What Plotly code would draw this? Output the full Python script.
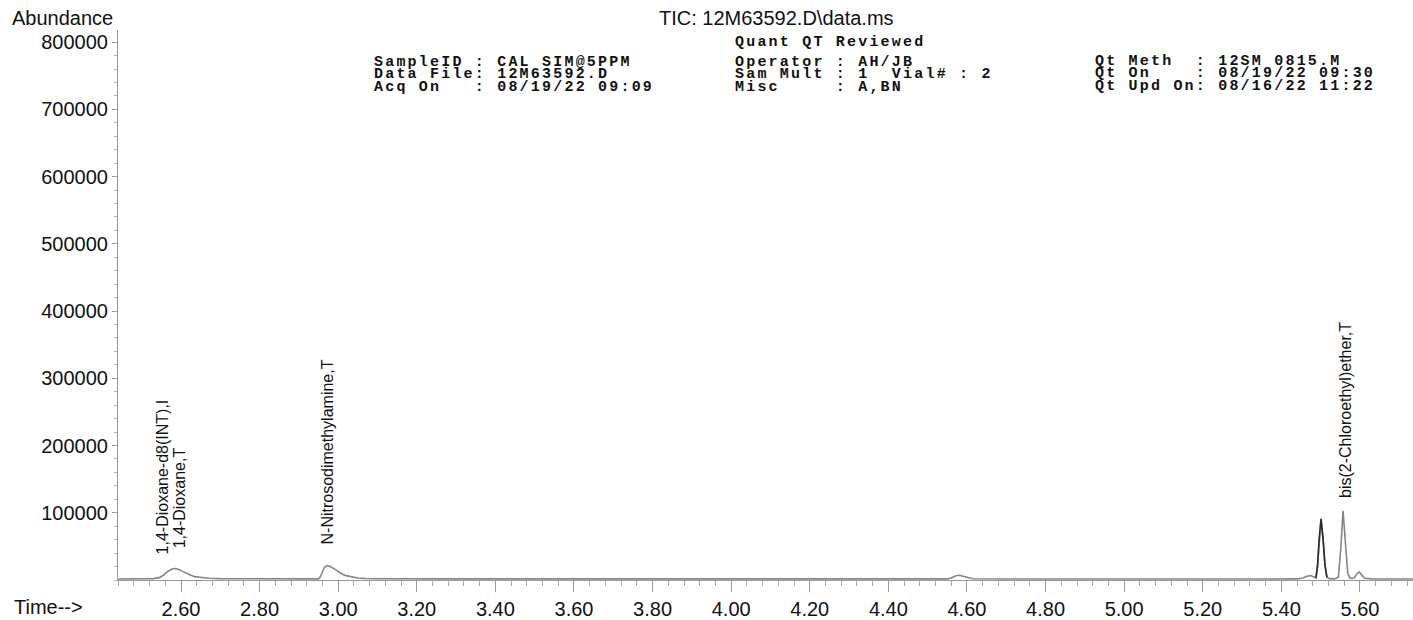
import plotly.graph_objects as go

# ---- data ----
time_min = [2.440, 2.500, 2.530, 2.545, 2.555, 2.565, 2.575, 2.585, 2.595, 2.605,
            2.615, 2.625, 2.635, 2.650, 2.670, 2.700, 2.800, 2.900, 2.950, 2.955,
            2.960, 2.965, 2.972, 2.980, 2.990, 3.000, 3.010, 3.020, 3.035, 3.050,
            3.070, 3.100, 3.300, 3.600, 4.000, 4.400, 4.550, 4.560, 4.570, 4.580,
            4.590, 4.600, 4.615, 4.700, 5.000, 5.300, 5.440, 5.455, 5.465, 5.475,
            5.483, 5.488, 5.492, 5.496, 5.501, 5.506, 5.511, 5.516, 5.522, 5.535,
            5.545, 5.551, 5.557, 5.563, 5.569, 5.575, 5.585, 5.592, 5.598, 5.604,
            5.612, 5.630, 5.735]
abundance = [1500, 1600, 2000, 3500, 7000, 12000, 16000, 17000, 15500, 12500,
             9500, 7000, 5000, 3500, 2500, 2000, 1700, 1600, 1700, 5000,
             13000, 19000, 21500, 20000, 16500, 12500, 9000, 6500, 4300, 3000,
             2300, 1900, 1700, 1600, 1500, 1500, 1600, 3000, 6000, 7000,
             5500, 3000, 1800, 1500, 1500, 1500, 1600, 3000, 5500, 6500,
             4000, 3000, 20000, 60000, 91000, 62000, 22000, 4000, 2000, 1600,
             4000, 45000, 103000, 55000, 10000, 2500, 3000, 9000, 12000, 8000,
             2500, 1600, 1500]

peak_labels = ["1,4-Dioxane-d8(INT),I", "1,4-Dioxane,T", "N-Nitrosodimethylamine,T",
               "bis(2-Chloroethyl)ether,T"]
peak_label_times = [2.554, 2.597, 2.974, 5.562]

x_tick_vals = [2.60, 2.80, 3.00, 3.20, 3.40, 3.60, 3.80, 4.00, 4.20, 4.40,
               4.60, 4.80, 5.00, 5.20, 5.40, 5.60]
y_tick_vals = [100000, 200000, 300000, 400000, 500000, 600000, 700000, 800000]

title_text = "TIC: 12M63592.D\\data.ms"
header_left = ["SampleID : CAL SIM@5PPM", "Data File: 12M63592.D", "Acq On   : 08/19/22 09:09"]
header_mid = ["Operator : AH/JB", "Sam Mult : 1  Vial# : 2", "Misc     : A,BN"]
header_right = ["Qt Meth  : 12SM 0815.M", "Qt On    : 08/19/22 09:30", "Qt Upd On: 08/16/22 11:22"]
header_top = "Quant QT Reviewed"

# ---- layout geometry (pixels) ----
W, H = 1413, 620
ML, MR, MT, MB = 118, 0, 30, 40
PW, PH = W - ML - MR, H - MT - MB
X_RANGE = [2.4397, 5.7350]
Y_RANGE = [0, 818000]


def px_x(p):
    return (p - ML) / PW


def px_y(p):
    return (H - MB - p) / PH


def val_at_px_y(p):
    return Y_RANGE[0] + (H - MB - p) / PH * (Y_RANGE[1] - Y_RANGE[0])


fig = go.Figure()

fig.add_trace(go.Scatter(x=time_min, y=abundance, mode="lines",
                         line=dict(color="#858585", width=1.6), hoverinfo="skip"))

# darker overlay for the 5.50 peak
hi_t = [t for t in time_min if 5.486 <= t <= 5.518]
hi_a = [a for t, a in zip(time_min, abundance) if 5.486 <= t <= 5.518]
fig.add_trace(go.Scatter(x=hi_t, y=hi_a, mode="lines",
                         line=dict(color="#2b2b2b", width=1.6), hoverinfo="skip"))

sans = "Liberation Sans, Arial, sans-serif"
mono = "Liberation Mono, Courier New, monospace"

annotations = []
# rotated peak labels (bottom pixel positions)
label_bottoms = [556, 550, 546, 500]
for txt, t, pb in zip(peak_labels, peak_label_times, label_bottoms):
    annotations.append(dict(x=t, y=val_at_px_y(pb), xref="x", yref="y", text=txt,
                            textangle=-90, showarrow=False, xanchor="center",
                            yanchor="bottom", font=dict(family=sans, size=16, color="#111")))

annotations.append(dict(x=px_x(776), y=px_y(18), xref="paper", yref="paper", text=title_text,
                        showarrow=False, xanchor="center", yanchor="middle",
                        font=dict(family=sans, size=20, color="#111")))
annotations.append(dict(x=px_x(10), y=px_y(18), xref="paper", yref="paper", text="Abundance",
                        showarrow=False, xanchor="left", yanchor="middle",
                        font=dict(family=sans, size=20, color="#111")))
annotations.append(dict(x=px_x(12), y=px_y(607), xref="paper", yref="paper", text="Time-->",
                        showarrow=False, xanchor="left", yanchor="middle",
                        font=dict(family=sans, size=20, color="#111")))

mono_font = dict(family=mono, size=15, color="#111")


def mono_text(s):
    return '<span style="letter-spacing:2.2px"><b>%s</b></span>' % s.replace(" ", "&nbsp;")


annotations.append(dict(x=px_x(733), y=px_y(42), xref="paper", yref="paper", text=mono_text(header_top),
                        showarrow=False, xanchor="left", yanchor="middle", font=mono_font))
line_ys = [62, 74.5, 87]
for block, x0 in ((header_left, 372), (header_mid, 733), (header_right, 1093)):
    for txt, ly in zip(block, line_ys):
        yy = ly - 1 if x0 == 1093 else ly
        annotations.append(dict(x=px_x(x0), y=px_y(yy), xref="paper", yref="paper",
                                text=mono_text(txt),
                                showarrow=False, xanchor="left", yanchor="middle", font=mono_font))

fig.update_layout(
    width=W, height=H,
    margin=dict(l=ML, r=MR, t=MT, b=MB, pad=0),
    paper_bgcolor="white", plot_bgcolor="white",
    showlegend=False,
    annotations=annotations,
    xaxis=dict(range=X_RANGE, tickvals=x_tick_vals, ticktext=["%.2f" % v for v in x_tick_vals],
               ticks="outside", ticklen=11, tickwidth=1, tickcolor="#999",
               showline=True, linecolor="#999", linewidth=1, showgrid=False, zeroline=False,
               tickfont=dict(family=sans, size=20, color="#111"),
               minor=dict(dtick=0.04, tick0=2.6, ticks="outside", ticklen=5, tickcolor="#aaa"),
               fixedrange=True),
    yaxis=dict(range=Y_RANGE, tickvals=y_tick_vals, ticktext=[str(v) for v in y_tick_vals],
               ticks="outside", ticklen=5, tickwidth=1, tickcolor="#999",
               showline=True, linecolor="#999", linewidth=1, showgrid=False, zeroline=False,
               tickfont=dict(family=sans, size=20, color="#111"),
               minor=dict(dtick=20000, ticks="outside", ticklen=3, tickcolor="#bbb"),
               fixedrange=True),
)

fig.write_html("out.html", config={"displayModeBar": False})
